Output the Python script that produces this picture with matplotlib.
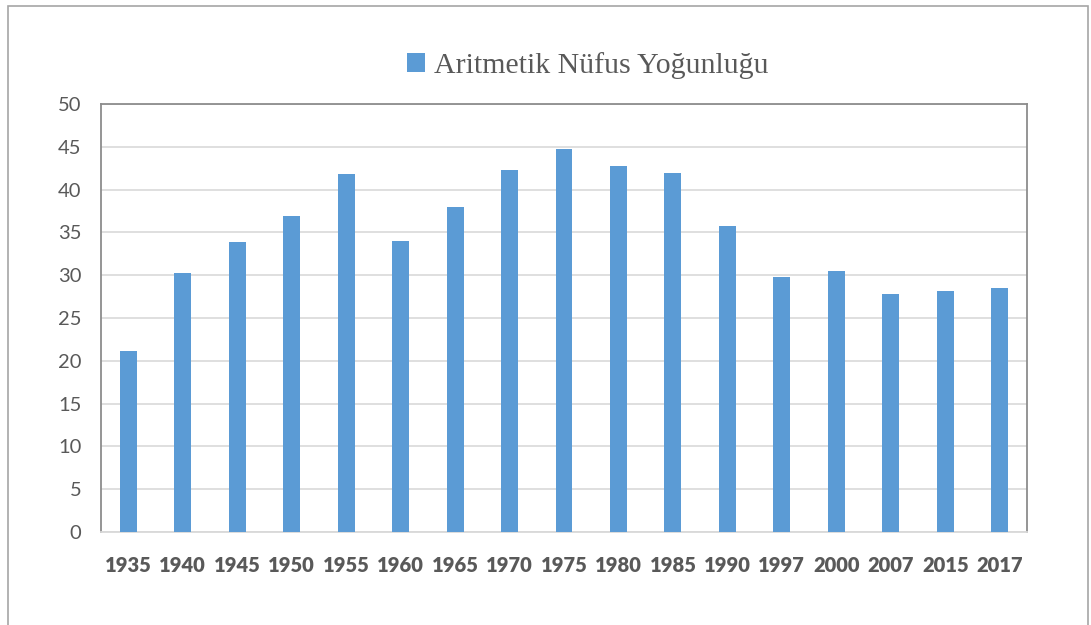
import numpy as np
import matplotlib.pyplot as plt
from matplotlib.patches import Rectangle

years = ["1935", "1940", "1945", "1950", "1955", "1960", "1965", "1970", "1975",
         "1980", "1985", "1990", "1997", "2000", "2007", "2015", "2017"]
density = [21.1, 30.3, 33.9, 36.9, 41.8, 34.0, 38.0, 42.3, 44.7,
           42.7, 41.9, 35.7, 29.8, 30.5, 27.8, 28.2, 28.5]
series_name = "Aritmetik Nüfus Yoğunluğu"

BAR_COLOR = "#5B9BD5"
TEXT_COLOR = "#595959"
GRID_COLOR = "#D9D9D9"

W, H = 1091, 625
fig = plt.figure(figsize=(W / 100, H / 100), dpi=100)

# outer chart frame (bottom edge falls outside the picture)
fig.patches.append(Rectangle((8 / W, -0.05), (1088 - 8) / W, (H - 6) / H + 0.05,
                             transform=fig.transFigure, fill=False,
                             edgecolor="#A6A6A6", linewidth=1.2))

ax = fig.add_axes([101 / W, (H - 532) / H, (1027 - 101) / W, (532 - 104) / H])

x = np.arange(len(years))
bars = ax.bar(x, density, width=0.31, color=BAR_COLOR, zorder=3, label=series_name)

ax.set_xlim(-0.5, len(years) - 0.5)
ax.set_ylim(0, 50)
ax.set_yticks(np.arange(0, 51, 5))
ax.grid(axis="y", color=GRID_COLOR, linewidth=1.2, zorder=0)

ax.set_xticks(x)
ax.set_xticklabels(years, fontfamily="Lato", fontweight="heavy", fontsize=14.5,
                   color=TEXT_COLOR)
for lab in ax.get_yticklabels():
    lab.set_fontfamily("Lato")
    lab.set_fontsize(14.5)
    lab.set_color(TEXT_COLOR)
ax.tick_params(axis="y", length=0, pad=14)
ax.tick_params(axis="x", length=0, pad=17)

for side in ["left", "top", "right"]:
    ax.spines[side].set_color("#8C8C8C")
    ax.spines[side].set_linewidth(1.3)
ax.spines["bottom"].set_color(GRID_COLOR)
ax.spines["bottom"].set_linewidth(1.3)

fig.legend(handles=[bars], labels=[series_name], loc="center",
           bbox_to_anchor=(588 / W, 1 - 66 / H), frameon=False,
           prop={"family": "Liberation Serif", "size": 21.5},
           labelcolor=TEXT_COLOR, handlelength=0.6, handleheight=0.6,
           handletextpad=0.3)

fig.savefig("out.png", dpi=100)
